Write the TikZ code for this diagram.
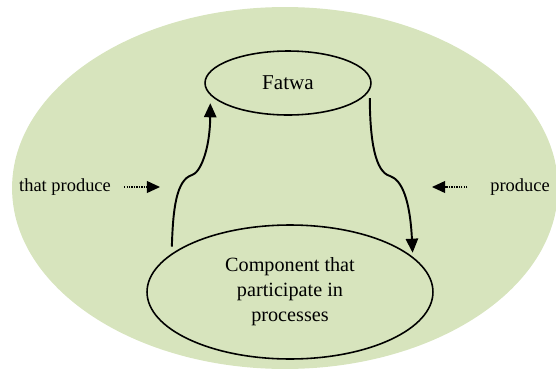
\documentclass[tikz,border=0pt]{standalone}
\usepackage{fontspec}
\setmainfont{Liberation Serif}
\usetikzlibrary{shapes.geometric}
\usetikzlibrary{arrows.meta}
\definecolor{sage}{HTML}{D7E4BD}

\begin{document}
\begin{tikzpicture}[x=0.02cm,y=-0.02cm,
  blob/.style={ellipse,draw,line width=0.9pt,inner sep=0pt},
  flow/.style={line width=1.1pt,-{Triangle[length=8pt,width=7pt]}},
  hint/.style={line width=0.7pt,dash pattern=on 0.7pt off 0.7pt,-{Triangle[length=7.5pt,width=6.8pt]}},
  side/.style={font=\fontsize{10.5}{12}\selectfont}]
\useasboundingbox (0,0) rectangle (556,373);
\clip (0,0) rectangle (556,373);
% background
\node[ellipse,fill=sage,minimum width=10.92cm,minimum height=7.24cm] (world) at (285,188) {};

\node[blob,minimum width=3.32cm,minimum height=1.28cm,font=\fontsize{12}{14}\selectfont] (fatwa) at (288,83) {Fatwa};
\node[blob,minimum width=5.72cm,minimum height=2.68cm,align=center,font=\fontsize{11.5}{14.2}\selectfont] (comp) at (290,292) {Component that\\participate in\\processes};

% up and down
\draw[flow,shorten <=4pt,shorten >=4.5pt] (comp.162) .. controls (173,210) and (176,180) .. (192,175)
  .. controls (200,173) and (210,150) .. (fatwa.189);
\draw[flow,shorten <=4.5pt,shorten >=2.3pt] (fatwa.355) .. controls (370,140) and (375,172) .. (390,176)
  .. controls (402,180) and (410,200) .. (comp.16);

\node[side] (thatprod) at (65,187) {that produce};
\coordinate (ltip) at (160,187);
\draw[hint,shorten <=4pt] (thatprod.east) -- (ltip);

\node[side] (prod) at (520,187) {produce};
\coordinate (rtip) at (432,187);
\draw[hint,shorten <=9.5pt] (prod.west) -- (rtip);
\end{tikzpicture}
\end{document}
